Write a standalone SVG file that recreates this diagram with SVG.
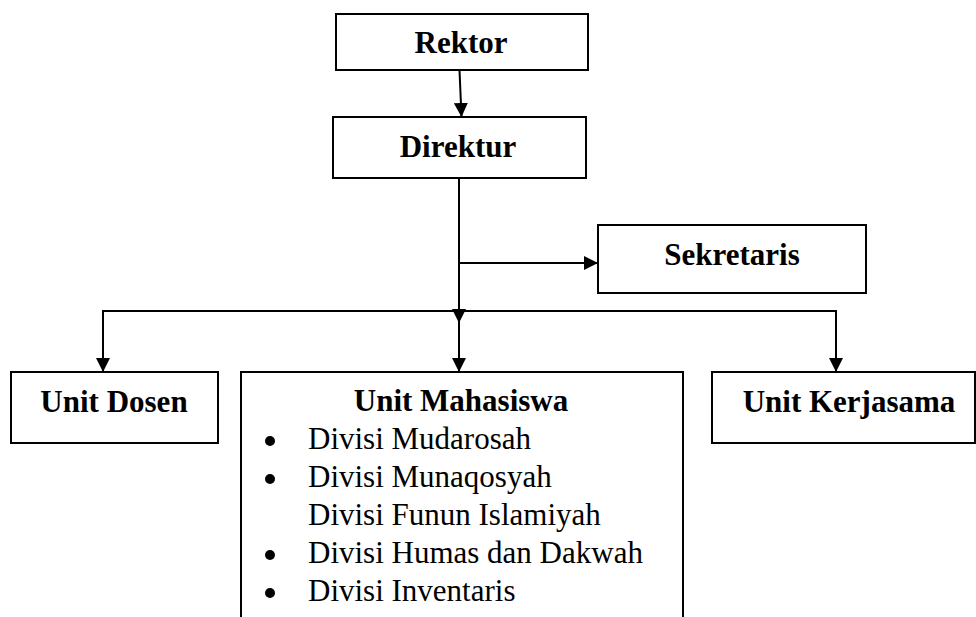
<svg xmlns="http://www.w3.org/2000/svg" width="976" height="617" viewBox="0 0 976 617">
<style>
  .box { fill: #fff; stroke: #000; stroke-width: 2; }
  .conn { fill: none; stroke: #000; stroke-width: 2; marker-end: url(#arrow); }
  .t { font-family: "Liberation Serif", "Times New Roman", serif; fill: #000; }
  .b { font-weight: bold; font-size: 31px; text-anchor: middle; }
  .r { font-size: 31px; }
</style>
<defs>
  <marker id="arrow" markerUnits="userSpaceOnUse" markerWidth="15" markerHeight="14" refX="14" refY="7" orient="auto">
    <path d="M0,0 L14,7 L0,14 z" fill="#000"/>
  </marker>
</defs>
<rect width="976" height="617" fill="#fff"/>
<g id="connectors">
  <path class="conn" d="M459.5,70 L461.5,117"/>
  <path class="conn" d="M459,178 L459,323"/>
  <path class="conn" d="M459,323 L459,372"/>
  <path class="conn" d="M459,263 L598,263"/>
  <path class="conn" d="M459,311 L103,311 L103,372"/>
  <path class="conn" d="M459,311 L836,311 L836,372"/>
</g>
<g id="rektor">
  <rect class="box" x="336" y="14" width="252" height="56"/>
  <text class="t b" x="461" y="53">Rektor</text>
</g>
<g id="direktur">
  <rect class="box" x="333" y="117" width="253" height="61"/>
  <text class="t b" x="458" y="157">Direktur</text>
</g>
<g id="sekretaris">
  <rect class="box" x="598" y="225" width="268" height="68"/>
  <text class="t b" x="732" y="265">Sekretaris</text>
</g>
<g id="unit-dosen">
  <rect class="box" x="11" y="372" width="207" height="71"/>
  <text class="t b" x="114" y="412">Unit Dosen</text>
</g>
<g id="unit-mahasiswa">
  <path class="box" d="M241,618 L241,372 L683,372 L683,618"/>
  <text class="t b" x="461" y="411">Unit Mahasiswa</text>
  <circle cx="270" cy="441" r="5"/>
  <text class="t r" x="308" y="449">Divisi Mudarosah</text>
  <circle cx="270" cy="479" r="5"/>
  <text class="t r" x="308" y="487">Divisi Munaqosyah</text>
  <text class="t r" x="308" y="525">Divisi Funun Islamiyah</text>
  <circle cx="270" cy="555" r="5"/>
  <text class="t r" x="308" y="563">Divisi Humas dan Dakwah</text>
  <circle cx="270" cy="593" r="5"/>
  <text class="t r" x="308" y="601">Divisi Inventaris</text>
</g>
<g id="unit-kerjasama">
  <rect class="box" x="712" y="372" width="263" height="71"/>
  <text class="t b" x="849" y="412">Unit Kerjasama</text>
</g>
</svg>
